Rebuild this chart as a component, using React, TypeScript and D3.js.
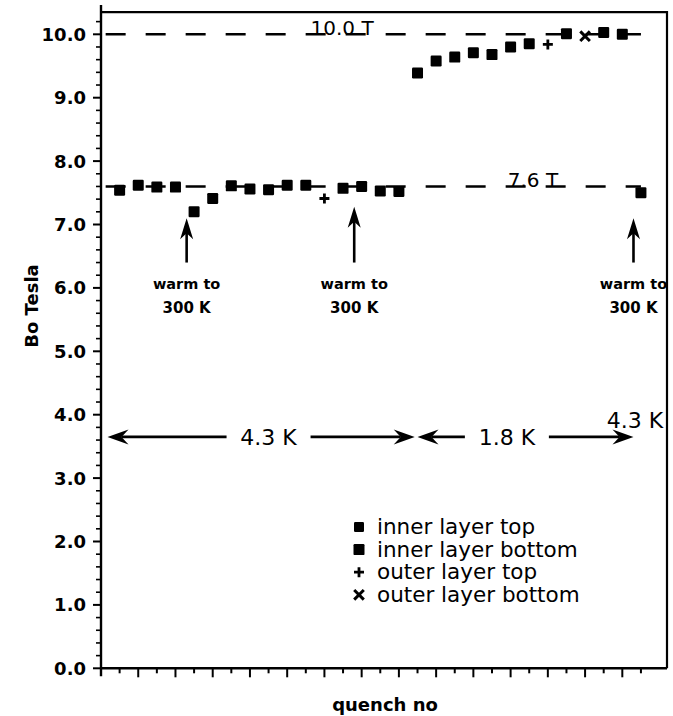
import * as d3 from 'd3';

// quench number / field (Tesla) for each series
const innerTopQuench = [1, 2, 3, 4, 5, 6, 7, 8, 9, 10, 11, 13, 14, 15, 16, 29];
const innerTopField = [7.54, 7.62, 7.59, 7.59, 7.2, 7.41, 7.61, 7.56, 7.55, 7.62, 7.62, 7.57, 7.6, 7.53, 7.52, 7.5];
const innerBottomQuench = [17, 18, 19, 20, 21, 22, 23, 25, 27, 28];
const innerBottomField = [9.39, 9.58, 9.64, 9.71, 9.68, 9.8, 9.85, 10.01, 10.03, 10.0];
const outerTopQuench = [12, 24];
const outerTopField = [7.41, 9.84];
const outerBottomQuench = [26];
const outerBottomField = [9.97];

// dashed reference levels
const refLevels = [10.0, 7.6];
const refLabels = ['10.0 T', '7.6 T'];
const refLabelQuench = [12.95, 23.2];

// "warm to 300 K" arrows
const warmQuench = [4.6, 13.6, 28.6];
const warmTip = [7.1, 7.28, 7.1];
const warmTail = 6.4;

// temperature spans
const spanFrom = [0.35, 17.0];
const spanTo = [16.85, 28.6];
const spanLabels = ['4.3 K', '1.8 K'];
const spanLabelQuench = [9.0, 21.8];
const spanLevel = 3.65;

const legendLabels = ['inner layer top', 'inner layer bottom', 'outer layer top', 'outer layer bottom'];
const legendKinds = ['sqSmall', 'sq', 'plus', 'cross'];

const W = 673;
const H = 716;
const LEFT = 101;
const RIGHT = 667;

const x = d3.scaleLinear().domain([0, 30.4]).range([LEFT, RIGHT]);
const y = d3.scaleLinear().domain([0, 10]).range([668.3, 34.3]);

const SANS = '"DejaVu Sans", sans-serif';

function Marker({ kind, cx, cy }: { kind: string; cx: number; cy: number }) {
  if (kind === 'sq' || kind === 'sqSmall') {
    const s = kind === 'sq' ? 11 : 10;
    return <rect x={cx - s / 2} y={cy - s / 2} width={s} height={s} rx={1.2} fill="#000" />;
  }
  if (kind === 'plus') {
    const s = 5;
    return (
      <path d={`M${cx - s},${cy}H${cx + s}M${cx},${cy - s}V${cy + s}`} stroke="#000" strokeWidth={2.8} />
    );
  }
  const s = 4.8;
  return (
    <path
      d={`M${cx - s},${cy - s}L${cx + s},${cy + s}M${cx - s},${cy + s}L${cx + s},${cy - s}`}
      stroke="#000"
      strokeWidth={3}
    />
  );
}

function hArrowHead(tx: number, ty: number, dir: number) {
  // dir = 1 points right, -1 points left
  return `M${tx},${ty}L${tx - dir * 21},${ty - 7.5}L${tx - dir * 14},${ty}L${tx - dir * 21},${ty + 7.5}Z`;
}

function vArrowHead(tx: number, ty: number) {
  return `M${tx},${ty}L${tx - 6.5},${ty + 21}L${tx},${ty + 15}L${tx + 6.5},${ty + 21}Z`;
}

export default function App() {
  const yTop = y(10.35);
  const yBot = y(0);
  const yMajor = d3.range(0, 11);
  const yMinor = d3.range(0, 52).map((i) => i * 0.2).filter((v) => Math.abs(v - Math.round(v)) > 1e-6);
  const xTicks = d3.range(1, 30);
  const spanY = y(spanLevel);

  return (
    <div style={{ position: 'fixed', left: 0, top: 0 }}>
      <svg width={W} height={H} style={{ display: 'block', background: '#fff' }}>
        {/* frame */}
        <path d={`M${LEFT},${yTop}H${RIGHT}V${yBot}`} fill="none" stroke="#000" strokeWidth={2.2} />
        <line x1={LEFT} x2={RIGHT} y1={yBot} y2={yBot} stroke="#000" strokeWidth={2.4} />
        <line x1={LEFT} x2={LEFT} y1={5} y2={yBot + 8} stroke="#000" strokeWidth={2.4} />

        {/* y ticks */}
        {yMajor.map((v) => (
          <g key={`ym${v}`}>
            <line x1={LEFT - 8} x2={LEFT + 1} y1={y(v)} y2={y(v)} stroke="#000" strokeWidth={2} />
            <text
              x={LEFT - 15}
              y={y(v) + 6.5}
              textAnchor="end"
              fontFamily={SANS}
              fontWeight="bold"
              fontSize={18}
            >
              {v.toFixed(1)}
            </text>
          </g>
        ))}
        {yMinor.map((v) => (
          <line key={`yn${v}`} x1={LEFT - 5} x2={LEFT + 1} y1={y(v)} y2={y(v)} stroke="#000" strokeWidth={1.6} />
        ))}

        {/* x ticks */}
        {xTicks.map((q) => (
          <line
            key={`xt${q}`}
            x1={x(q)}
            x2={x(q)}
            y1={yBot}
            y2={yBot + (q % 2 === 0 ? 9 : 5)}
            stroke="#000"
            strokeWidth={2}
          />
        ))}

        {/* dashed reference levels */}
        {refLevels.map((v, i) => (
          <g key={`ref${i}`}>
            <line
              x1={x(0.25)}
              x2={x(29)}
              y1={y(v)}
              y2={y(v)}
              stroke="#000"
              strokeWidth={2.4}
              strokeDasharray="20 20"
            />
            <text
              x={x(refLabelQuench[i])}
              y={y(v) + 1}
              textAnchor="middle"
              fontFamily={SANS}
              fontSize={20}
            >
              {refLabels[i]}
            </text>
          </g>
        ))}

        {/* data */}
        {innerTopQuench.map((q, i) => (
          <Marker key={`it${i}`} kind="sq" cx={x(q)} cy={y(innerTopField[i])} />
        ))}
        {innerBottomQuench.map((q, i) => (
          <Marker key={`ib${i}`} kind="sq" cx={x(q)} cy={y(innerBottomField[i])} />
        ))}
        {outerTopQuench.map((q, i) => (
          <Marker key={`ot${i}`} kind="plus" cx={x(q)} cy={y(outerTopField[i])} />
        ))}
        {outerBottomQuench.map((q, i) => (
          <Marker key={`ob${i}`} kind="cross" cx={x(q)} cy={y(outerBottomField[i])} />
        ))}

        {/* warm to 300 K arrows */}
        {warmQuench.map((q, i) => (
          <g key={`w${i}`}>
            <line x1={x(q)} x2={x(q)} y1={y(warmTip[i]) + 14} y2={y(warmTail)} stroke="#000" strokeWidth={2.6} />
            <path d={vArrowHead(x(q), y(warmTip[i]))} fill="#000" />
            <text
              x={x(q)}
              y={y(warmTail) + 26}
              textAnchor="middle"
              fontFamily={SANS}
              fontWeight="bold"
              fontSize={14.5}
            >
              warm to
            </text>
            <text
              x={x(q)}
              y={y(warmTail) + 50}
              textAnchor="middle"
              fontFamily={SANS}
              fontWeight="bold"
              fontSize={15}
            >
              300 K
            </text>
          </g>
        ))}

        {/* temperature spans */}
        {spanFrom.map((q0, i) => {
          const a = x(q0);
          const b = x(spanTo[i]);
          const c = x(spanLabelQuench[i]);
          return (
            <g key={`s${i}`}>
              <line x1={a + 14} x2={c - 42} y1={spanY} y2={spanY} stroke="#000" strokeWidth={2.6} />
              <line x1={c + 42} x2={b - 14} y1={spanY} y2={spanY} stroke="#000" strokeWidth={2.6} />
              <path d={hArrowHead(a, spanY, -1)} fill="#000" />
              <path d={hArrowHead(b, spanY, 1)} fill="#000" />
              <text x={c} y={spanY + 8} textAnchor="middle" fontFamily={SANS} fontSize={22}>
                {spanLabels[i]}
              </text>
            </g>
          );
        })}
        <text x={x(30.2)} y={y(3.79)} textAnchor="end" fontFamily={SANS} fontSize={22}>
          4.3 K
        </text>

        {/* legend */}
        {legendLabels.map((l, i) => (
          <g key={`lg${i}`} transform={`translate(359,${527 + i * 22.6})`}>
            <Marker kind={legendKinds[i]} cx={0} cy={0} />
            <text x={18} y={7} fontFamily={SANS} fontSize={21.5}>
              {l}
            </text>
          </g>
        ))}

        {/* axis titles */}
        <text
          transform={`translate(38,${306}) rotate(-90)`}
          textAnchor="middle"
          fontFamily={SANS}
          fontWeight="bold"
          fontSize={18}
        >
          Bo  Tesla
        </text>
        <text x={385} y={711} textAnchor="middle" fontFamily={SANS} fontWeight="bold" fontSize={18}>
          quench no
        </text>
      </svg>
    </div>
  );
}
